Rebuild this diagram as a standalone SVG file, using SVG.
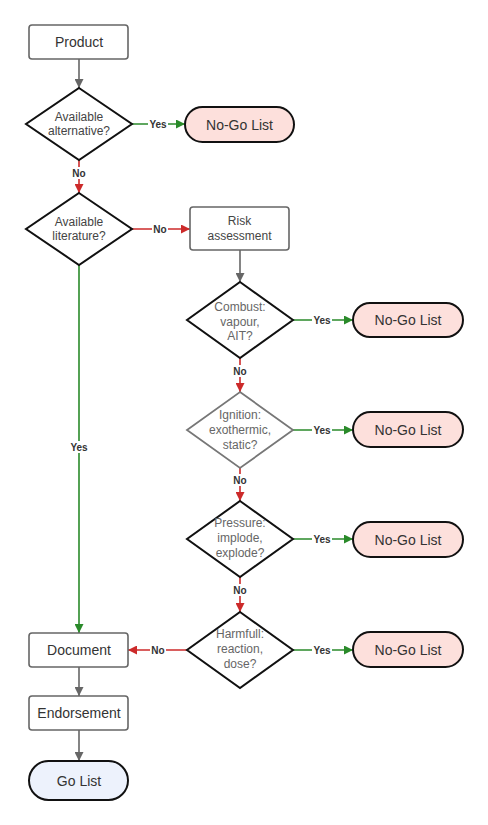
<svg xmlns="http://www.w3.org/2000/svg" width="488" height="825" viewBox="0 0 488 825">
<defs>
<marker id="ag" viewBox="0 0 10 10" refX="10" refY="5" markerWidth="10" markerHeight="9" markerUnits="userSpaceOnUse" orient="auto"><path d="M0,0 L10,5 L0,10 z" fill="#666666"/></marker>
<marker id="ar" viewBox="0 0 10 10" refX="10" refY="5" markerWidth="10" markerHeight="9" markerUnits="userSpaceOnUse" orient="auto"><path d="M0,0 L10,5 L0,10 z" fill="#cc2a2a"/></marker>
<marker id="agr" viewBox="0 0 10 10" refX="10" refY="5" markerWidth="10" markerHeight="9" markerUnits="userSpaceOnUse" orient="auto"><path d="M0,0 L10,5 L0,10 z" fill="#2a8a2a"/></marker>
<style>
.box{fill:#ffffff;stroke:#666666;stroke-width:1.6}
.dia{fill:#ffffff;stroke:#111111;stroke-width:2}
.dia2{fill:#ffffff;stroke:#777777;stroke-width:1.8}
.nogo{fill:#fde0dc;stroke:#111111;stroke-width:2}
.go{fill:#edf2fc;stroke:#111111;stroke-width:2}
.t{font-family:"Liberation Sans",Arial,sans-serif;font-size:14px;fill:#333333;text-anchor:middle}
.td{font-family:"Liberation Sans",Arial,sans-serif;font-size:12px;fill:#444444;text-anchor:middle}
.tg{font-family:"Liberation Sans",Arial,sans-serif;font-size:12px;fill:#666666;text-anchor:middle}
.lbl{font-family:"Liberation Sans",Arial,sans-serif;font-size:10px;font-weight:bold;fill:#333333;text-anchor:middle}
.cg{stroke:#666666;stroke-width:1.6;fill:none}
.cr{stroke:#cc2a2a;stroke-width:1.6;fill:none}
.cgr{stroke:#2a8a2a;stroke-width:1.6;fill:none}
.lb{fill:#ffffff}
</style>
</defs>
<rect width="488" height="825" fill="#ffffff"/>
<g id="connectors">
<line class="cg" x1="79" y1="59" x2="79" y2="88" marker-end="url(#ag)"/>
<line class="cgr" x1="132" y1="124" x2="185" y2="124" marker-end="url(#agr)"/>
<line class="cr" x1="79" y1="160" x2="79" y2="193" marker-end="url(#ar)"/>
<line class="cr" x1="132" y1="229" x2="190" y2="229" marker-end="url(#ar)"/>
<line class="cgr" x1="79" y1="265" x2="79" y2="633" marker-end="url(#agr)"/>
<line class="cg" x1="240" y1="250" x2="240" y2="282" marker-end="url(#ag)"/>
<line class="cgr" x1="293" y1="320" x2="353" y2="320" marker-end="url(#agr)"/>
<line class="cr" x1="240" y1="358" x2="240" y2="392" marker-end="url(#ar)"/>
<line class="cgr" x1="293" y1="430" x2="353" y2="430" marker-end="url(#agr)"/>
<line class="cr" x1="240" y1="468" x2="240" y2="501" marker-end="url(#ar)"/>
<line class="cgr" x1="293" y1="539" x2="353" y2="539" marker-end="url(#agr)"/>
<line class="cr" x1="240" y1="577" x2="240" y2="612" marker-end="url(#ar)"/>
<line class="cgr" x1="293" y1="650" x2="353" y2="650" marker-end="url(#agr)"/>
<line class="cr" x1="187" y1="650" x2="128" y2="650" marker-end="url(#ar)"/>
<line class="cg" x1="79" y1="667" x2="79" y2="696" marker-end="url(#ag)"/>
<line class="cg" x1="79" y1="730" x2="79" y2="761" marker-end="url(#ag)"/>
<rect class="lb" x="148" y="118" width="20" height="12"/><text class="lbl" x="158" y="127.5">Yes</text>
<rect class="lb" x="71" y="167" width="16" height="12"/><text class="lbl" x="79" y="176.5">No</text>
<rect class="lb" x="152" y="223" width="16" height="12"/><text class="lbl" x="160" y="232.5">No</text>
<rect class="lb" x="68" y="441" width="22" height="12"/><text class="lbl" x="79" y="450.5">Yes</text>
<rect class="lb" x="312" y="314" width="20" height="12"/><text class="lbl" x="322" y="323.5">Yes</text>
<rect class="lb" x="232" y="365" width="16" height="12"/><text class="lbl" x="240" y="374.5">No</text>
<rect class="lb" x="312" y="424" width="20" height="12"/><text class="lbl" x="322" y="433.5">Yes</text>
<rect class="lb" x="232" y="474" width="16" height="12"/><text class="lbl" x="240" y="483.5">No</text>
<rect class="lb" x="312" y="533" width="20" height="12"/><text class="lbl" x="322" y="542.5">Yes</text>
<rect class="lb" x="232" y="584" width="16" height="12"/><text class="lbl" x="240" y="593.5">No</text>
<rect class="lb" x="312" y="644" width="20" height="12"/><text class="lbl" x="322" y="653.5">Yes</text>
<rect class="lb" x="150" y="644" width="16" height="12"/><text class="lbl" x="158" y="653.5">No</text>
</g>
<g id="product"><rect class="box" x="29" y="25" width="99" height="34" rx="3"/><text class="t" x="79" y="47">Product</text></g>
<g id="alt"><polygon class="dia" points="79,88 132,124 79,160 26,124"/><text class="td" x="79" y="121">Available</text><text class="td" x="79" y="135">alternative?</text></g>
<g id="nogo1"><rect class="nogo" x="185" y="107" width="109" height="35" rx="17.5"/><text class="t" x="239.5" y="129.5">No-Go List</text></g>
<g id="lit"><polygon class="dia" points="79,193 132,229 79,265 26,229"/><text class="td" x="79" y="226">Available</text><text class="td" x="79" y="240">literature?</text></g>
<g id="risk"><rect class="box" x="190" y="207" width="99" height="43" rx="3"/><text class="td" x="239.5" y="225">Risk</text><text class="td" x="239.5" y="240">assessment</text></g>
<g id="combust"><polygon class="dia" points="240,282 293,320 240,358 187,320"/><text class="tg" x="240" y="311">Combust:</text><text class="tg" x="240" y="325.5">vapour,</text><text class="tg" x="240" y="340">AIT?</text></g>
<g id="nogo2"><rect class="nogo" x="353" y="303" width="110" height="34" rx="17"/><text class="t" x="408" y="325">No-Go List</text></g>
<g id="ignition"><polygon class="dia2" points="240,392 293,430 240,468 187,430"/><text class="tg" x="240" y="419">Ignition:</text><text class="tg" x="240" y="434">exothermic,</text><text class="tg" x="240" y="449">static?</text></g>
<g id="nogo3"><rect class="nogo" x="353" y="412" width="110" height="35" rx="17.5"/><text class="t" x="408" y="434.5">No-Go List</text></g>
<g id="pressure"><polygon class="dia" points="240,501 293,539 240,577 187,539"/><text class="tg" x="240" y="527">Pressure:</text><text class="tg" x="240" y="542">implode,</text><text class="tg" x="240" y="557">explode?</text></g>
<g id="nogo4"><rect class="nogo" x="353" y="522" width="110" height="35" rx="17.5"/><text class="t" x="408" y="544.5">No-Go List</text></g>
<g id="harmfull"><polygon class="dia" points="240,612 293,650 240,688 187,650"/><text class="tg" x="240" y="638">Harmfull:</text><text class="tg" x="240" y="653">reaction,</text><text class="tg" x="240" y="668">dose?</text></g>
<g id="nogo5"><rect class="nogo" x="353" y="632" width="110" height="35" rx="17.5"/><text class="t" x="408" y="654.5">No-Go List</text></g>
<g id="document"><rect class="box" x="29" y="633" width="99" height="34" rx="3"/><text class="t" x="79" y="655">Document</text></g>
<g id="endorsement"><rect class="box" x="29" y="696" width="99" height="34" rx="3"/><text class="t" x="79" y="718">Endorsement</text></g>
<g id="golist"><rect class="go" x="29" y="761" width="99" height="39" rx="19.5"/><text class="t" x="79" y="785.5">Go List</text></g>
</svg>
